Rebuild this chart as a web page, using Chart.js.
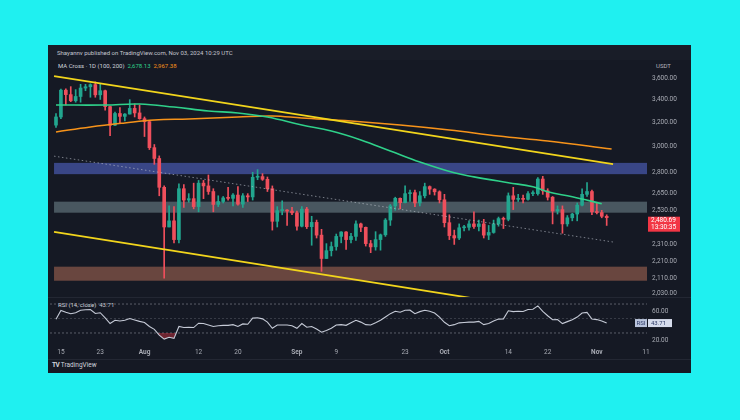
<!DOCTYPE html>
<html>
<head>
<meta charset="utf-8">
<script src="https://cdn.jsdelivr.net/npm/chart.js@4.4.1/dist/chart.umd.min.js"></script>
<style>
  html, body { margin: 0; padding: 0; }
  body { width: 740px; height: 420px; background: #1ff0f0; position: relative; overflow: hidden; font-family: Roboto, sans-serif; }
  .panel { position: absolute; left: 48px; top: 45px; width: 643px; height: 328px; background: #151924; }
  .head { position: absolute; left: 48px; top: 45px; width: 643px; height: 15px; background: #191d28; }
  .sep { position: absolute; left: 48px; width: 643px; height: 1px; background: #232733; }
  .txt { position: absolute; white-space: nowrap; font-size: 6px; line-height: 8px; color: #d1d4dc; }
  canvas { position: absolute; }
</style>
</head>
<body>
<div class="panel"></div>
<div class="head"></div>
<div class="sep" style="top:297px;"></div>
<div class="sep" style="top:359px;"></div>
<div class="txt" style="left:57px; top:49px; color:#c3c6ce;">Shayannv published on TradingView.com, Nov 03, 2024 10:29 UTC</div>
<div class="txt" style="left:58px; top:62px;">MA Cross · 1D (100, 200) &nbsp;<span style="color:#2fd18a">2,678.13</span> &nbsp;<span style="color:#f7931a">2,967.38</span></div>
<div class="txt" style="left:656px; top:62px; color:#b2b5be;">USDT</div>
<div class="txt" style="left:58px; top:301px;">RSI (14, close) &nbsp;<span style="color:#c5cad6">43.71</span></div>
<div class="txt" style="left:52px; top:361px; font-size:6.5px;"><b style="letter-spacing:-0.5px">TV</b> TradingView</div>

<canvas id="priceChart" width="640" height="237" style="left:50px; top:60px;"></canvas>
<canvas id="rsiChart" width="640" height="63" style="left:50px; top:297px;"></canvas>

<script>
// ETH/USDT daily candles, Jul 14 -> Nov 3 2024 (index 0 = Jul 14)
const opens = [
  3175, 3245, 3485, 3444, 3388, 3427, 3505, 3517, 3537, 3442,
  3480, 3336, 3174, 3275, 3250, 3270, 3320, 3280, 3230, 3205,
  2990, 2905, 2690, 2420, 2460, 2340, 2680, 2600, 2610, 2555,
  2720, 2700, 2660, 2570, 2590, 2615, 2612, 2635, 2572, 2630,
  2622, 2763, 2768, 2748, 2680, 2457, 2528, 2530, 2525, 2513,
  2425, 2538, 2422, 2450, 2368, 2225, 2272, 2297, 2360, 2388,
  2340, 2360, 2440, 2418, 2315, 2295, 2340, 2370, 2465, 2560,
  2612, 2582, 2645, 2652, 2580, 2630, 2695, 2677, 2658, 2602,
  2448, 2365, 2350, 2415, 2418, 2440, 2423, 2440, 2368, 2385,
  2440, 2475, 2470, 2630, 2605, 2612, 2605, 2645, 2645, 2750,
  2665, 2620, 2525, 2535, 2440, 2480, 2505, 2565, 2640, 2660,
  2520, 2515, 2490
];
const highs = [
  3275, 3495, 3498, 3518, 3490, 3540, 3540, 3545, 3563, 3541,
  3487, 3340, 3288, 3327, 3275, 3398, 3360, 3350, 3245, 3215,
  3015, 2925, 2700, 2560, 2555, 2715, 2710, 2645, 2720, 2740,
  2740, 2780, 2680, 2630, 2625, 2690, 2645, 2695, 2645, 2645,
  2800, 2820, 2790, 2765, 2700, 2555, 2595, 2535, 2550, 2525,
  2555, 2550, 2490, 2465, 2405, 2315, 2325, 2375, 2390, 2390,
  2380, 2460, 2445, 2420, 2335, 2390, 2375, 2475, 2570, 2620,
  2615, 2700, 2670, 2670, 2660, 2720, 2700, 2680, 2665, 2640,
  2500, 2400, 2440, 2430, 2460, 2520, 2465, 2470, 2430, 2465,
  2485, 2485, 2650, 2690, 2640, 2635, 2660, 2665, 2760, 2770,
  2680, 2625, 2560, 2560, 2495, 2510, 2580, 2680, 2725, 2670,
  2585, 2530, 2500
];
const lows = [
  3155, 3230, 3350, 3380, 3375, 3375, 3480, 3420, 3420, 3400,
  3305, 3087, 3170, 3190, 3210, 3270, 3245, 3225, 3080, 2975,
  2860, 2630, 2111, 2420, 2320, 2320, 2550, 2585, 2540, 2520,
  2610, 2640, 2520, 2555, 2580, 2600, 2560, 2565, 2550, 2590,
  2600, 2745, 2740, 2660, 2400, 2420, 2500, 2430, 2500, 2400,
  2420, 2410, 2305, 2350, 2150, 2225, 2240, 2275, 2320, 2280,
  2320, 2335, 2390, 2300, 2260, 2275, 2275, 2360, 2430, 2530,
  2540, 2580, 2590, 2555, 2560, 2615, 2640, 2635, 2580, 2420,
  2340, 2310, 2340, 2395, 2400, 2410, 2395, 2350, 2340, 2380,
  2425, 2410, 2460, 2535, 2590, 2580, 2600, 2630, 2635, 2640,
  2600, 2440, 2505, 2380, 2425, 2460, 2460, 2560, 2625, 2500,
  2505, 2480, 2430
];
const closes = [
  3245, 3485, 3444, 3388, 3427, 3505, 3517, 3537, 3442, 3480,
  3336, 3174, 3275, 3250, 3270, 3320, 3280, 3230, 3205, 2990,
  2905, 2690, 2420, 2460, 2340, 2680, 2600, 2610, 2555, 2720,
  2700, 2660, 2570, 2590, 2615, 2612, 2635, 2572, 2630, 2622,
  2763, 2768, 2748, 2680, 2457, 2528, 2530, 2525, 2513, 2425,
  2538, 2422, 2450, 2368, 2225, 2272, 2297, 2360, 2388, 2340,
  2360, 2440, 2418, 2315, 2295, 2340, 2370, 2465, 2560, 2612,
  2582, 2645, 2652, 2580, 2630, 2695, 2677, 2658, 2602, 2448,
  2365, 2350, 2415, 2418, 2440, 2423, 2440, 2368, 2385, 2440,
  2475, 2470, 2630, 2605, 2612, 2605, 2645, 2645, 2750, 2665,
  2620, 2525, 2535, 2440, 2480, 2505, 2565, 2640, 2660, 2520,
  2515, 2490, 2480.69
];
const rsiValues = [
  49, 61, 58.5, 56.5, 58, 61.5, 62, 62.5, 57, 58,
  51, 43, 47.5, 46.5, 47.5, 50, 48, 46, 44.5, 39,
  35, 27, 21.5, 24, 22.5, 39, 37.5, 38, 37.5, 43.5,
  43, 41, 39, 40, 40.5, 40.5, 41.5, 39, 42.5, 42,
  50.5, 51, 49.5, 45, 36.5, 41, 41, 41, 40, 36.5,
  43, 38, 39, 35.5, 31, 33.5, 36.5, 41, 41.5, 40.6,
  44, 47.5, 45, 41.5, 41, 44, 47.5, 52, 56.7, 60,
  58.6, 61.3, 61.5, 56.7, 59.5, 61.3, 60, 57.5, 52, 44.8,
  40, 41.5, 44, 44.5, 45, 45, 46, 41.5, 43, 46.4,
  49.2, 49.5, 60.6, 59.5, 60, 59.7, 62.5, 62.8, 67.4, 59.8,
  53.8, 48.3, 48.5, 43, 45.7, 48.3, 52, 57.5, 58.5, 49.3,
  48.5, 46.6, 43.71
];

// axis ticks
const priceTicks = [3600, 3400, 3200, 3000, 2800, 2650, 2530, 2310, 2210, 2110, 2030];
const rsiTicks = [60, 20];
const rsiLevels = [70, 50, 30];
const timeTickDays = [1, 9, 18, 29, 37, 49, 57, 71, 79, 92, 100, 110, 120];
const timeTickLabels = ['15', '23', 'Aug', '12', '20', 'Sep', '9', '23', 'Oct', '14', '22', 'Nov', '11'];

// moving averages
const ma100Days = [0, 10, 17, 24, 31, 37, 43, 50, 56, 62, 68, 74, 81, 85, 92, 97, 100, 105, 111];
const ma100Values = [3350, 3350, 3359, 3332, 3297, 3280, 3245, 3176, 3125, 3052, 2964, 2878, 2796, 2766, 2723, 2694, 2658, 2623, 2575];
const ma200Days = [0, 7, 14, 20, 27, 37, 44, 50, 60, 70, 80, 90, 100, 113];
const ma200Values = [3118, 3160, 3194, 3219, 3228, 3245, 3254, 3236, 3210, 3176, 3134, 3084, 3043, 2979];

// drawn trend lines and zones
const upperTrendDays = [-0.4, 113.3];
const upperTrendValues = [3619, 2862];
const lowerTrendDays = [-0.4, 86];
const lowerTrendValues = [2389, 1996];
const midTrendDays = [-0.4, 113.3];
const midTrendValues = [2923, 2325];
const zoneLows = [2786, 2514, 2097];
const zoneHighs = [2871, 2589, 2177];
const zoneColors = ['rgba(82,100,200,0.6)', 'rgba(125,150,155,0.5)', 'rgba(190,115,90,0.5)'];
const zoneStartDay = -0.4;

const UP = '#22a68f';
const DOWN = '#ef4f5c';
const X_MIN = -1.22;
const X_MAX = 120.2;
const AXIS_W = 43;

Chart.defaults.font.family = 'Roboto, sans-serif';
Chart.defaults.font.size = 6.5;
Chart.defaults.color = '#a8abb4';

const fmt = (v) => v.toLocaleString('en-US', { minimumFractionDigits: 2, maximumFractionDigits: 2 });
const toPoints = (days, values) => days.map((d, i) => ({ x: d, y: values[i] }));
const candleColors = closes.map((c, i) => (c >= opens[i] ? UP : DOWN));

const zonesPlugin = {
  id: 'zones',
  beforeDatasetsDraw(chart) {
    const { ctx, chartArea, scales } = chart;
    ctx.save();
    const x0 = scales.x.getPixelForValue(zoneStartDay);
    zoneLows.forEach((lo, i) => {
      const yTop = scales.y.getPixelForValue(zoneHighs[i]);
      const yBot = scales.y.getPixelForValue(lo);
      ctx.fillStyle = zoneColors[i];
      ctx.fillRect(x0, yTop, chartArea.right - x0, yBot - yTop);
    });
    ctx.restore();
  },
};

const priceLabelPlugin = {
  id: 'priceLabel',
  afterDraw(chart) {
    const { ctx, chartArea, scales } = chart;
    const y = scales.y.getPixelForValue(closes[closes.length - 1]);
    ctx.save();
    ctx.fillStyle = '#f23645';
    ctx.fillRect(chartArea.right + 1, y - 1, 32, 15);
    ctx.fillStyle = '#ffffff';
    ctx.font = '6.5px Roboto, sans-serif';
    ctx.textBaseline = 'middle';
    ctx.fillText(fmt(closes[closes.length - 1]), chartArea.right + 4, y + 3);
    ctx.fillText('13:30:35', chartArea.right + 4, y + 10);
    ctx.restore();
  },
};

const rsiLabelPlugin = {
  id: 'rsiLabel',
  afterDraw(chart) {
    const { ctx, chartArea, scales } = chart;
    const last = rsiValues[rsiValues.length - 1];
    const y = scales.y.getPixelForValue(last);
    ctx.save();
    ctx.fillStyle = '#b9c4dc';
    ctx.fillRect(chartArea.right - 12, y - 4, 12, 8);
    ctx.fillStyle = '#d6dcec';
    ctx.fillRect(chartArea.right + 1, y - 4, 24, 8);
    ctx.fillStyle = '#2d3a66';
    ctx.font = '6px Roboto, sans-serif';
    ctx.textBaseline = 'middle';
    ctx.fillText('RSI', chartArea.right - 10.5, y + 0.5);
    ctx.fillText(last.toFixed(2), chartArea.right + 4, y + 0.5);
    ctx.restore();
  },
};

const fitRight = (s) => { s.width = AXIS_W; s.paddingTop = 0; s.paddingBottom = 0; };

new Chart(document.getElementById('priceChart'), {
  type: 'line',
  data: {
    datasets: [
      {
        type: 'bar',
        data: lows.map((l, i) => ({ x: i, y: [l, highs[i]] })),
        backgroundColor: candleColors,
        barThickness: 1,
        grouped: false,
        order: 10,
      },
      {
        type: 'bar',
        data: opens.map((o, i) => ({ x: i, y: [o, closes[i]] })),
        backgroundColor: candleColors,
        barThickness: 3,
        minBarLength: 1,
        grouped: false,
        order: 9,
      },
      {
        data: toPoints(ma200Days, ma200Values),
        borderColor: '#f7931a',
        borderWidth: 1.5,
        pointRadius: 0,
        tension: 0.4,
        order: 5,
      },
      {
        data: toPoints(ma100Days, ma100Values),
        borderColor: '#2fd18a',
        borderWidth: 1.6,
        pointRadius: 0,
        tension: 0.4,
        order: 4,
      },
      {
        data: toPoints(midTrendDays, midTrendValues),
        borderColor: 'rgba(190,195,205,0.6)',
        borderWidth: 1,
        borderDash: [1.5, 2.5],
        pointRadius: 0,
        order: 3,
      },
      {
        data: toPoints(upperTrendDays, upperTrendValues),
        borderColor: '#f2d51c',
        borderWidth: 1.8,
        pointRadius: 0,
        order: 1,
      },
      {
        data: toPoints(lowerTrendDays, lowerTrendValues),
        borderColor: '#f2d51c',
        borderWidth: 1.8,
        pointRadius: 0,
        order: 1,
      },
    ],
  },
  options: {
    responsive: false,
    animation: false,
    layout: { padding: 0 },
    plugins: { legend: { display: false }, tooltip: { enabled: false } },
    scales: {
      x: { type: 'linear', min: X_MIN, max: X_MAX, offset: false, display: false },
      y: {
        type: 'logarithmic',
        position: 'right',
        min: 2008,
        max: 3777,
        grid: { display: false, drawTicks: false },
        border: { display: false },
        afterBuildTicks: (s) => { s.ticks = priceTicks.map((v) => ({ value: v })); },
        afterFit: fitRight,
        ticks: { autoSkip: false, padding: 5, callback: (v) => fmt(v) },
      },
    },
  },
  plugins: [zonesPlugin, priceLabelPlugin],
});

new Chart(document.getElementById('rsiChart'), {
  type: 'line',
  data: {
    datasets: [
      ...rsiLevels.map((lvl) => ({
        data: [{ x: X_MIN, y: lvl }, { x: X_MAX, y: lvl }],
        borderColor: lvl === 50 ? 'rgba(120,123,134,0.35)' : 'rgba(120,123,134,0.7)',
        borderWidth: 1,
        borderDash: [2, 2],
        pointRadius: 0,
        order: 5,
      })),
      {
        data: rsiValues.map((v, i) => ({ x: i, y: v })),
        borderColor: '#c5cad6',
        borderWidth: 1.1,
        pointRadius: 0,
        fill: { target: { value: 30 }, above: 'rgba(0,0,0,0)', below: 'rgba(242,54,69,0.4)' },
        order: 1,
      },
    ],
  },
  options: {
    responsive: false,
    animation: false,
    layout: { padding: 0 },
    plugins: { legend: { display: false }, tooltip: { enabled: false } },
    scales: {
      x: {
        type: 'linear',
        min: X_MIN,
        max: X_MAX,
        offset: false,
        grid: { display: false, drawTicks: false },
        border: { display: false },
        afterBuildTicks: (s) => { s.ticks = timeTickDays.map((v) => ({ value: v })); },
        afterFit: (s) => { s.height = 15; s.paddingLeft = 0; s.paddingRight = 0; },
        ticks: {
          autoSkip: false,
          maxRotation: 0,
          padding: 3,
          callback: (v) => timeTickLabels[timeTickDays.indexOf(v)],
          font: (c) => ({ size: 6.5, weight: /[A-Z]/.test(c.tick && c.tick.label) ? 'bold' : 'normal' }),
        },
      },
      y: {
        position: 'right',
        min: 13.4,
        max: 79.7,
        grid: { display: false, drawTicks: false },
        border: { display: false },
        afterBuildTicks: (s) => { s.ticks = rsiTicks.map((v) => ({ value: v })); },
        afterFit: fitRight,
        ticks: { autoSkip: false, padding: 5, callback: (v) => v.toFixed(2) },
      },
    },
  },
  plugins: [rsiLabelPlugin],
});
</script>
</body>
</html>
